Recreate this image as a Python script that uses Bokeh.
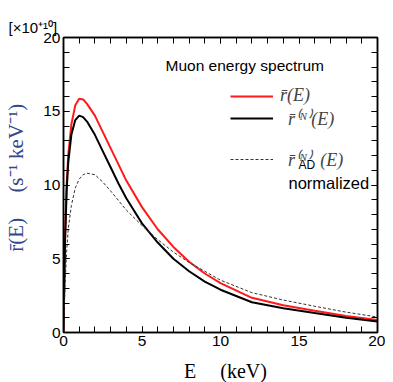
from bokeh.plotting import figure
from bokeh.models import Range1d, FixedTicker, LinearAxis, Label, Legend, LegendItem, Title
from bokeh.embed import file_html
from bokeh.resources import INLINE

# ---- data ----
energy = [0, 0.05, 0.1, 0.2, 0.3, 0.5, 0.75, 1.0, 1.25, 1.5, 2, 2.5, 3, 3.5, 4,
          5, 6, 7, 8, 9, 10, 12, 14, 16, 18, 20]
r_mean = [0, 3.5, 6.5, 10.0, 12.0, 14.1, 15.4, 15.85, 15.8, 15.5, 14.7, 13.6, 12.5, 11.4, 10.3,
          8.5, 7.0, 5.8, 4.8, 4.0, 3.35, 2.35, 1.85, 1.48, 1.12, 0.85]
r_n = [0, 3.3, 6.2, 9.6, 11.5, 13.4, 14.4, 14.7, 14.6, 14.3, 13.4, 12.3, 11.2, 10.1, 9.1,
       7.4, 6.1, 5.0, 4.15, 3.45, 2.9, 2.05, 1.65, 1.32, 1.0, 0.74]
r_ad = [0, 1.5, 3.2, 5.5, 7.0, 8.6, 9.8, 10.4, 10.7, 10.8, 10.7, 10.2, 9.6, 8.95, 8.3,
        7.25, 6.3, 5.45, 4.75, 4.15, 3.55, 2.7, 2.2, 1.78, 1.38, 1.05]
x_major = [0, 5, 10, 15, 20]
y_major = [0, 5, 10, 15, 20]
minor = list(range(0, 21))

serif = "Liberation Serif"
sans = "Liberation Sans"

p = figure(frame_width=314, frame_height=295, output_backend="svg", toolbar_location=None,
           x_range=Range1d(0, 20), y_range=Range1d(0, 20),
           min_border_left=63, min_border_right=8, min_border_top=37, min_border_bottom=46)
p.xgrid.visible = False
p.ygrid.visible = False
p.outline_line_color = "black"
p.outline_line_width = 1.5
p.background_fill_color = "white"
p.border_fill_color = "white"

bottom_ax = p.xaxis[0]
left_ax = p.yaxis[0]


def style_axis(ax, ticks, labels=True):
    ax.ticker = FixedTicker(ticks=ticks, minor_ticks=minor)
    ax.major_tick_in = 6
    ax.major_tick_out = 0
    ax.minor_tick_in = 6
    ax.minor_tick_out = 0
    ax.major_tick_line_color = "black"
    ax.minor_tick_line_color = "black"
    ax.axis_line_color = "black"
    ax.axis_line_width = 1.5
    ax.major_label_text_font = sans
    ax.major_label_text_font_size = "15.5px"
    ax.major_label_text_color = "black"
    ax.major_label_standoff = 3
    if not labels:
        ax.major_label_overrides = {t: "" for t in ticks}
        ax.major_label_standoff = 0


style_axis(bottom_ax, x_major)
style_axis(left_ax, y_major)
top = LinearAxis()
right = LinearAxis()
style_axis(top, x_major, labels=False)
style_axis(right, y_major, labels=False)
p.add_layout(top, "above")
p.add_layout(right, "right")

# axis titles
sp = "\u2002"
bottom_ax.axis_label = sp + "E" + sp * 2 + "\u2009(keV)"
bottom_ax.axis_label_text_font = serif
bottom_ax.axis_label_text_font_style = "normal"
bottom_ax.axis_label_text_font_size = "20px"
bottom_ax.axis_label_text_color = "black"
bottom_ax.axis_label_standoff = 11

left_ax.axis_label = sp + "\u2009r̄(E)" + sp * 2 + "\u2009(s⁻¹ keV⁻¹)"
left_ax.axis_label_text_font = serif
left_ax.axis_label_text_font_style = "normal"
left_ax.axis_label_text_font_size = "21px"
left_ax.axis_label_text_color = "#34468c"
left_ax.axis_label_standoff = 12

r1 = p.line(energy, r_mean, line_color="#ff1a1a", line_width=2)
r2 = p.line(energy, r_n, line_color="black", line_width=2)
r3 = p.line(energy, r_ad, line_color="#333333", line_width=1, line_dash="3 2")


def leg(item_label, rend, x, y, standoff, baseline="middle"):
    lg = Legend(items=[LegendItem(label=item_label, renderers=[rend])],
                location=(x, y), background_fill_alpha=0, border_line_alpha=0,
                glyph_width=43, glyph_height=16, label_standoff=standoff, padding=0, margin=0,
                label_text_font=serif, label_text_font_style="italic",
                label_text_font_size="18px", label_height=16, label_text_baseline=baseline)
    p.add_layout(lg)


leg("r̄(E)", r1, 167, 226, 7)
leg("r̄⁽ᴺ⁾(E)", r2, 167, 202, 15)
leg("r̄⁽ᴺ⁾" + sp + "(E)", r3, 167, 161, 15, baseline="bottom")

p.add_layout(Label(x=102, y=267, x_units="screen", y_units="screen", text="Muon energy spectrum",
                   text_font=sans, text_font_size="15.5px", text_color="black",
                   text_baseline="middle"))
p.add_layout(Label(x=235, y=168, x_units="screen", y_units="screen", text="AD",
                   text_font=sans, text_font_size="12px", text_color="black",
                   text_baseline="middle"))
p.add_layout(Label(x=225, y=150, x_units="screen", y_units="screen", text="normalized",
                   text_font=sans, text_font_size="16.5px", text_color="black",
                   text_baseline="middle"))

p.add_layout(Title(text="[×10⁺¹⁰]", align="left", offset=-55, text_font=sans,
                   text_font_size="15px", text_font_style="normal", text_color="black",
                   standoff=4), "above")

open("out.html", "w").write(file_html(p, INLINE))
